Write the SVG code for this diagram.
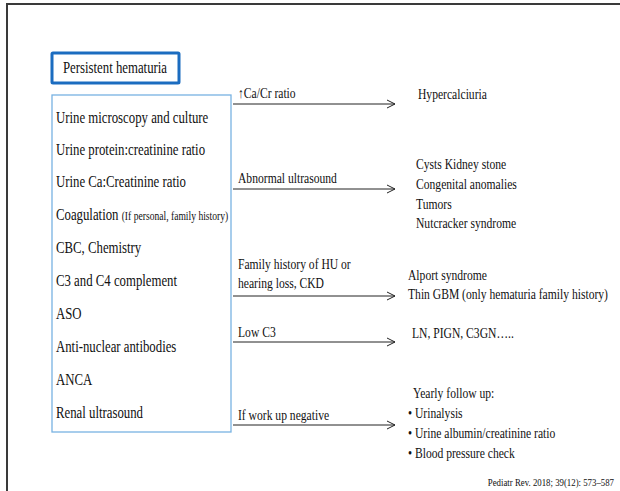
<svg xmlns="http://www.w3.org/2000/svg" width="620" height="491" viewBox="0 0 620 491" font-family="'Liberation Serif', 'Times New Roman', serif">
  <style>
    text { font-family: "Liberation Serif", "Times New Roman", serif; fill: #111; }
    .big { font-size: 16px; }
    .mid { font-size: 14.5px; }
    .small { font-size: 12px; }
    .ref { font-size: 11px; }
    .frame { stroke: #3a3a3a; stroke-width: 2; fill: none; }
    .edge { stroke: #222; stroke-width: 1; fill: none; }
  </style>
  <defs>
    <marker id="open-arrow" markerWidth="10" markerHeight="10" refX="9" refY="5" orient="auto" markerUnits="userSpaceOnUse">
      <path d="M1,1 L9,5 L1,9" fill="none" stroke="#222" stroke-width="1"/>
    </marker>
  </defs>

  <rect width="620" height="491" fill="#fff"/>
  <!-- slide frame: top and left edges -->
  <path class="frame" d="M7,491 V4 H620"/>

  <!-- heading box -->
  <g id="persistent-hematuria">
    <rect x="52" y="53" width="127" height="30" fill="#fff" stroke="#1b6cc0" stroke-width="3" rx="1"/>
    <text class="big" transform="translate(63 73) scale(0.8 1)">Persistent hematuria</text>
  </g>

  <!-- work-up list -->
  <g id="workup">
    <rect x="52" y="95" width="179" height="337" fill="#fff" stroke="#78b2e2" stroke-width="1.3"/>
    <text class="big" transform="translate(56 123) scale(0.8 1)">Urine microscopy and culture</text>
    <text class="big" transform="translate(56 155) scale(0.8 1)">Urine protein:creatinine ratio</text>
    <text class="big" transform="translate(56 187) scale(0.8 1)">Urine Ca:Creatinine ratio</text>
    <text class="big" transform="translate(56 220) scale(0.8 1)">Coagulation <tspan class="small">(If personal, family history)</tspan></text>
    <text class="big" transform="translate(56 253) scale(0.8 1)">CBC, Chemistry</text>
    <text class="big" transform="translate(56 286) scale(0.8 1)">C3 and C4 complement</text>
    <text class="big" transform="translate(56 319) scale(0.8 1)">ASO</text>
    <text class="big" transform="translate(56 352) scale(0.8 1)">Anti-nuclear antibodies</text>
    <text class="big" transform="translate(56 385) scale(0.8 1)">ANCA</text>
    <text class="big" transform="translate(56 418) scale(0.8 1)">Renal ultrasound</text>
  </g>

  <!-- connectors with their conditions -->
  <g id="connectors">
    <line class="edge" x1="233" y1="104" x2="395" y2="104" marker-end="url(#open-arrow)"/>
    <line class="edge" x1="233" y1="189" x2="395" y2="189" marker-end="url(#open-arrow)"/>
    <line class="edge" x1="233" y1="296" x2="395" y2="296" marker-end="url(#open-arrow)"/>
    <line class="edge" x1="233" y1="342" x2="395" y2="342" marker-end="url(#open-arrow)"/>
    <line class="edge" x1="233" y1="425" x2="395" y2="425" marker-end="url(#open-arrow)"/>
    <text class="mid" transform="translate(238 98) scale(0.8 1)">↑Ca/Cr ratio</text>
    <text class="mid" transform="translate(238 183) scale(0.8 1)">Abnormal ultrasound</text>
    <text class="mid" transform="translate(238 269) scale(0.8 1)">Family history of HU or</text>
    <text class="mid" transform="translate(238 288) scale(0.8 1)">hearing loss, CKD</text>
    <text class="mid" transform="translate(238 337) scale(0.8 1)">Low C3</text>
    <text class="mid" transform="translate(238 420) scale(0.8 1)">If work up negative</text>
  </g>

  <!-- outcomes -->
  <g id="hypercalciuria">
    <text class="mid" transform="translate(418 99) scale(0.8 1)">Hypercalciuria</text>
  </g>
  <g id="ultrasound-findings">
    <text class="mid" transform="translate(416 169) scale(0.8 1)">Cysts Kidney stone</text>
    <text class="mid" transform="translate(416 189) scale(0.8 1)">Congenital anomalies</text>
    <text class="mid" transform="translate(416 209) scale(0.8 1)">Tumors</text>
    <text class="mid" transform="translate(416 228) scale(0.8 1)">Nutcracker syndrome</text>
  </g>
  <g id="familial">
    <text class="mid" transform="translate(408 280) scale(0.8 1)">Alport syndrome</text>
    <text class="mid" transform="translate(408 299) scale(0.8 1)">Thin GBM (only hematuria family history)</text>
  </g>
  <g id="low-c3">
    <text class="mid" transform="translate(412 338) scale(0.8 1)">LN, PIGN, C3GN…..</text>
  </g>
  <g id="follow-up">
    <text class="mid" transform="translate(413 398) scale(0.8 1)">Yearly follow up:</text>
    <text class="mid" transform="translate(408 418) scale(0.8 1)">• Urinalysis</text>
    <text class="mid" transform="translate(408 438) scale(0.8 1)">• Urine albumin/creatinine ratio</text>
    <text class="mid" transform="translate(408 458) scale(0.8 1)">• Blood pressure check</text>
  </g>

  <text class="ref" text-anchor="end" transform="translate(614 486) scale(0.8 1)">Pediatr Rev. 2018; 39(12): 573–587</text>
</svg>
